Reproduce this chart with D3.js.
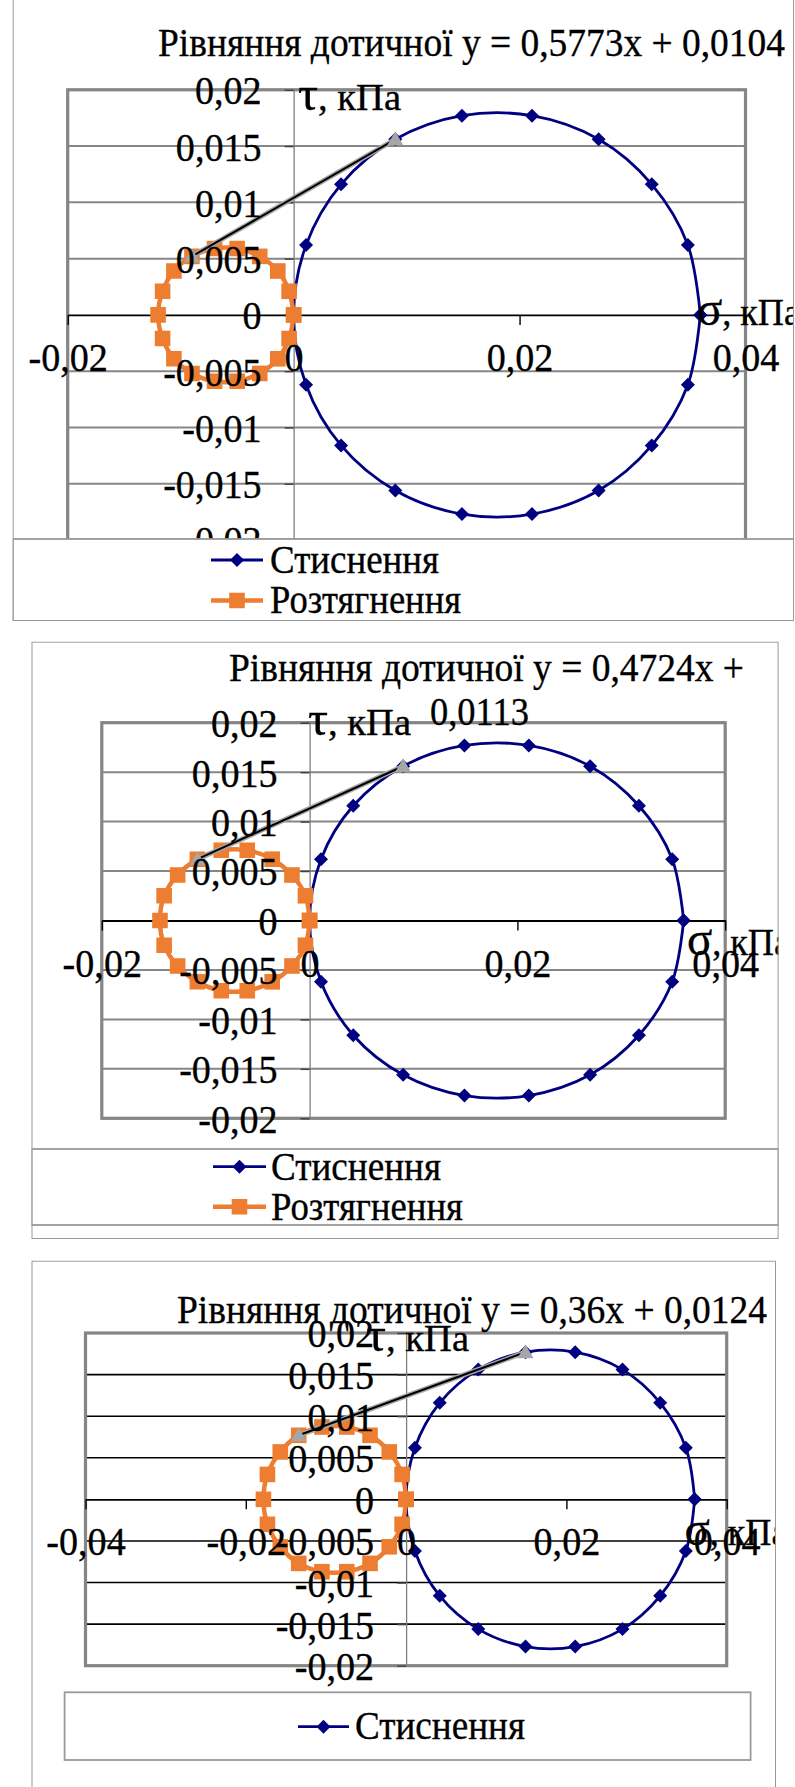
<!DOCTYPE html>
<html><head><meta charset="utf-8">
<script src="https://cdn.jsdelivr.net/npm/d3@7"></script>
<style>
body{margin:0;background:#fff}
svg, svg text{font-family:"Liberation Serif","Times New Roman",serif !important}
svg text{fill:#000;stroke:#000;stroke-width:0.35px}
</style>
</head><body>
<svg id="c" width="795" height="1787" font-family="Liberation Serif, Times New Roman, serif"></svg>
<script>
// ---------- DATA ----------
const compSigma = [0.036, 0.0349, 0.0317, 0.027, 0.0211, 0.0149, 0.009, 0.0042, 0.0011, 0, 0.0011, 0.0042, 0.009, 0.0149, 0.0211, 0.027, 0.0317, 0.0349, 0.036];
const compTau   = [0, 0.0062, 0.0116, 0.0156, 0.0177, 0.0177, 0.0156, 0.0116, 0.0062, 0, -0.0062, -0.0116, -0.0156, -0.0177, -0.0177, -0.0156, -0.0116, -0.0062, 0];

const tens1Sigma = [0, -0.0004, -0.0014, -0.003, -0.005, -0.007, -0.009, -0.0106, -0.0116, -0.012, -0.0116, -0.0106, -0.009, -0.007, -0.005, -0.003, -0.0014, -0.0004, 0];
const tens1Tau   = [0, 0.0021, 0.0039, 0.0052, 0.0059, 0.0059, 0.0052, 0.0039, 0.0021, 0, -0.0021, -0.0039, -0.0052, -0.0059, -0.0059, -0.0052, -0.0039, -0.0021, 0];

const tens2Sigma = [0, -0.0004, -0.0017, -0.0036, -0.006, -0.0085, -0.0108, -0.0127, -0.014, -0.0144, -0.014, -0.0127, -0.0108, -0.0085, -0.006, -0.0036, -0.0017, -0.0004, 0];
const tens2Tau   = [0, 0.0025, 0.0046, 0.0062, 0.0071, 0.0071, 0.0062, 0.0046, 0.0025, 0, -0.0025, -0.0046, -0.0062, -0.0071, -0.0071, -0.0062, -0.0046, -0.0025, 0];

const tens3Sigma = [0, -0.0005, -0.0021, -0.0045, -0.0074, -0.0105, -0.0134, -0.0157, -0.0173, -0.0178, -0.0173, -0.0157, -0.0134, -0.0105, -0.0074, -0.0045, -0.0021, -0.0005, 0];
const tens3Tau   = [0, 0.003, 0.0057, 0.0077, 0.0087, 0.0087, 0.0077, 0.0057, 0.003, 0, -0.003, -0.0057, -0.0077, -0.0087, -0.0087, -0.0077, -0.0057, -0.003, 0];

const tangent1Sigma = [-0.009, 0.009],  tangent1Tau = [0.0052, 0.0156];
const tangent2Sigma = [-0.0108, 0.009], tangent2Tau = [0.0062, 0.0156];
const tangent3Sigma = [-0.0134, 0.0149], tangent3Tau = [0.0077, 0.0177];

const yTickValues  = [-0.02, -0.015, -0.01, -0.005, 0, 0.005, 0.01, 0.015, 0.02];
const xTickValues12 = [-0.02, 0, 0.02, 0.04];
const xTickValues3  = [-0.04, -0.02, 0, 0.02, 0.04];

const title1 = ["Рівняння дотичної y = 0,5773x + 0,0104"];
const title2 = ["Рівняння дотичної y = 0,4724x +", "0,0113"];
const title3 = ["Рівняння дотичної y = 0,36x + 0,0124"];
const seriesNames = ["Стиснення", "Розтягнення"];
const tauLabel = ["τ", ", кПа"];
const sigmaLabel = ["σ", ", кПа"];

// ---------- LAYOUT ----------
const BLUE = "#000080", ORANGE = "#ED7D31";
const FONT = "Liberation Serif, Times New Roman, serif";
const fmt = d3.formatLocale({decimal: ",", thousands: " ", grouping: [3], currency: ["", ""], minus: "-"}).format("~g");
const TICK_FS = 41, TICK_SX = 0.93;

const charts = [
  { box: [12.7, -5, 794, 621], plot: [67.7, 89.8, 745.5, 540], xDomain: [-0.02, 0.04], xTicks: xTickValues12,
    tens: [tens1Sigma, tens1Tau], tan: [tangent1Sigma, tangent1Tau], grid: "#868686",
    title: [{t: title1[0], x0: 158, x1: 785, y: 56}],
    tau: {x0: 298, x1: 401, y: 110}, sigma: {x0: 697, x1: 800, y: 325},
    legend: {box: [12.7, 539, 794, 621], lx0: 211, lx1: 263, tx0: 270,
             rows: [{y: 560, tb: 573, tx1: 439, s: 0}, {y: 600.5, tb: 612.5, tx1: 461, s: 1}]} },
  { box: [31.5, 641.7, 778.6, 1239], plot: [101.8, 722.7, 725.2, 1118.3], xDomain: [-0.02, 0.04], xTicks: xTickValues12,
    tens: [tens2Sigma, tens2Tau], tan: [tangent2Sigma, tangent2Tau], grid: "#868686",
    title: [{t: title2[0], x0: 229, x1: 744, y: 681}, {t: title2[1], x0: 430, x1: 529, y: 725}],
    tau: {x0: 308, x1: 411, y: 735}, sigma: {x0: 687, x1: 790, y: 955},
    legend: {box: [31.5, 1149, 778.6, 1225], lx0: 213, lx1: 266, tx0: 271,
             rows: [{y: 1166.7, tb: 1180, tx1: 441, s: 0}, {y: 1206.7, tb: 1219.5, tx1: 463, s: 1}]} },
  { box: [31.5, 1260.7, 776, 1800], plot: [85.5, 1333, 726.7, 1665.7], xDomain: [-0.04, 0.04], xTicks: xTickValues3,
    tens: [tens3Sigma, tens3Tau], tan: [tangent3Sigma, tangent3Tau], grid: "#000",
    title: [{t: title3[0], x0: 177, x1: 767, y: 1322.5}],
    tau: {x0: 366, x1: 469, y: 1351}, sigma: {x0: 684.5, x1: 787.5, y: 1545},
    legend: {box: [64.6, 1692.3, 750.6, 1760], lx0: 298, lx1: 349, tx0: 355,
             rows: [{y: 1726.7, tb: 1739, tx1: 525, s: 0}]} }
];

const svg = d3.select("#c");
svg.append("rect").attr("width", 795).attr("height", 1787).attr("fill", "#fff");
const defs = svg.append("defs");

const diamond = "M0,-7L7,0L0,7L-7,0Z";
const square = "M-7.8,-7.8H7.8V7.8H-7.8Z";
const triangle = "M0,-8L8,6L-8,6Z";

charts.forEach((c, i) => {
  const [bx0, by0, bx1, by1] = c.box;
  const [px0, py0, px1, py1] = c.plot;
  defs.append("clipPath").attr("id", "clip" + i)
    .append("rect").attr("x", bx0).attr("y", by0).attr("width", bx1 - bx0).attr("height", by1 - by0);
  const g = svg.append("g").attr("clip-path", `url(#clip${i})`).attr("font-family", FONT);

  const x = d3.scaleLinear().domain(c.xDomain).range([px0, px1]);
  const y = d3.scaleLinear().domain([-0.02, 0.02]).range([py1, py0]);

  // gridlines
  g.append("g").selectAll("line").data(yTickValues.filter(v => v !== 0)).join("line")
    .attr("x1", px0).attr("x2", px1).attr("y1", d => y(d)).attr("y2", d => y(d))
    .attr("stroke", c.grid).attr("stroke-width", c.grid === "#000" ? 1.6 : 2);
  // plot border
  g.append("rect").attr("x", px0).attr("y", py0).attr("width", px1 - px0).attr("height", py1 - py0)
    .attr("fill", "none").attr("stroke", "#858585").attr("stroke-width", 3.2);

  // axes lines & ticks
  const yAx = g.append("g").attr("transform", `translate(${x(0)},0)`)
    .call(d3.axisLeft(y).tickValues(yTickValues).tickSize(9).tickSizeOuter(0).tickFormat(""));
  yAx.select(".domain").attr("stroke", "#808080").attr("stroke-width", 1.3);
  yAx.selectAll(".tick line").attr("stroke", "#404040").attr("stroke-width", 1.4);
  const xAx = g.append("g").attr("transform", `translate(0,${y(0)})`)
    .call(d3.axisBottom(x).tickValues(c.xTicks).tickSize(10).tickSizeOuter(0).tickFormat(""));
  xAx.select(".domain").attr("stroke", "#000").attr("stroke-width", 1.8);
  xAx.selectAll(".tick line").attr("stroke", "#000").attr("stroke-width", 1.4);

  const line = d3.line().x(d => x(d[0])).y(d => y(d[1])).curve(d3.curveCatmullRom.alpha(0.5));

  // compression (blue)
  const comp = d3.zip(compSigma, compTau);
  g.append("path").attr("d", line(comp)).attr("fill", "none").attr("stroke", BLUE).attr("stroke-width", 2.8);
  g.append("g").selectAll("path").data(comp).join("path")
    .attr("d", diamond).attr("transform", d => `translate(${x(d[0])},${y(d[1])})`).attr("fill", BLUE);

  // tension (orange)
  const tens = d3.zip(c.tens[0], c.tens[1]);
  g.append("path").attr("d", line(tens)).attr("fill", "none").attr("stroke", ORANGE).attr("stroke-width", 4.5);
  g.append("g").selectAll("path").data(tens).join("path")
    .attr("d", square).attr("transform", d => `translate(${x(d[0])},${y(d[1])})`).attr("fill", ORANGE);

  // tangent line
  const tan = d3.zip(c.tan[0], c.tan[1]);
  const lin = d3.line().x(d => x(d[0])).y(d => y(d[1]));
  g.append("path").attr("d", lin(tan)).attr("stroke", "#a6a6a6").attr("stroke-width", 5).attr("fill", "none");
  g.append("path").attr("d", lin(tan)).attr("stroke", "#000").attr("stroke-width", 2).attr("fill", "none");
  g.append("g").selectAll("path").data(tan).join("path")
    .attr("d", triangle).attr("transform", d => `translate(${x(d[0])},${y(d[1])})`).attr("fill", "#a6a6a6");

  // tick labels on top
  const yLab = g.append("g").attr("transform", `translate(${x(0)},0)`)
    .call(d3.axisLeft(y).tickValues(yTickValues).tickSize(0).tickPadding(33).tickFormat(fmt));
  yLab.attr("font-family", FONT).attr("font-size", TICK_FS);
  yLab.select(".domain").remove();
  yLab.selectAll("text").attr("x", -32 / TICK_SX).attr("transform", `scale(${TICK_SX},1)`)
    .attr("dy", "0.34em").attr("fill", "#000");
  const xLab = g.append("g").attr("transform", `translate(0,${y(0)})`)
    .call(d3.axisBottom(x).tickValues(c.xTicks).tickSize(0).tickPadding(27).tickFormat(fmt));
  xLab.attr("font-family", FONT).attr("font-size", TICK_FS);
  xLab.select(".domain").remove();
  xLab.selectAll("text").attr("transform", `scale(${TICK_SX},1)`).attr("fill", "#000");

  // axis titles
  const axisTitle = (parts, p) => {
    const t = g.append("text").attr("x", p.x0).attr("y", p.y)
      .attr("textLength", p.x1 - p.x0).attr("lengthAdjust", "spacingAndGlyphs");
    t.append("tspan").attr("font-size", 48).text(parts[0]);
    t.append("tspan").attr("font-size", 37).text(parts[1]);
  };
  axisTitle(tauLabel, c.tau);
  axisTitle(sigmaLabel, c.sigma);

  // legend
  const L = c.legend;
  g.append("rect").attr("x", L.box[0]).attr("y", L.box[1]).attr("width", L.box[2] - L.box[0]).attr("height", L.box[3] - L.box[1])
    .attr("fill", "#fff").attr("stroke", "#9a9a9a").attr("stroke-width", 1.8);
  L.rows.forEach(r => {
    const col = r.s === 0 ? BLUE : ORANGE;
    g.append("line").attr("x1", L.lx0).attr("x2", L.lx1).attr("y1", r.y).attr("y2", r.y)
      .attr("stroke", col).attr("stroke-width", r.s === 0 ? 2.8 : 4.5);
    g.append("path").attr("d", r.s === 0 ? diamond : square)
      .attr("transform", `translate(${(L.lx0 + L.lx1) / 2},${r.y})`).attr("fill", col);
    g.append("text").attr("x", L.tx0).attr("y", r.tb).attr("font-size", 39)
      .attr("textLength", r.tx1 - L.tx0).attr("lengthAdjust", "spacingAndGlyphs").text(seriesNames[r.s]);
  });

  // title
  c.title.forEach(tl => {
    g.append("text").attr("x", tl.x0).attr("y", tl.y).attr("font-size", 41)
      .attr("textLength", tl.x1 - tl.x0).attr("lengthAdjust", "spacingAndGlyphs").text(tl.t);
  });

  // outer box
  g.append("rect").attr("x", bx0).attr("y", by0).attr("width", bx1 - bx0).attr("height", by1 - by0)
    .attr("fill", "none").attr("stroke", "#9a9a9a").attr("stroke-width", 2);
});
</script>
</body></html>
